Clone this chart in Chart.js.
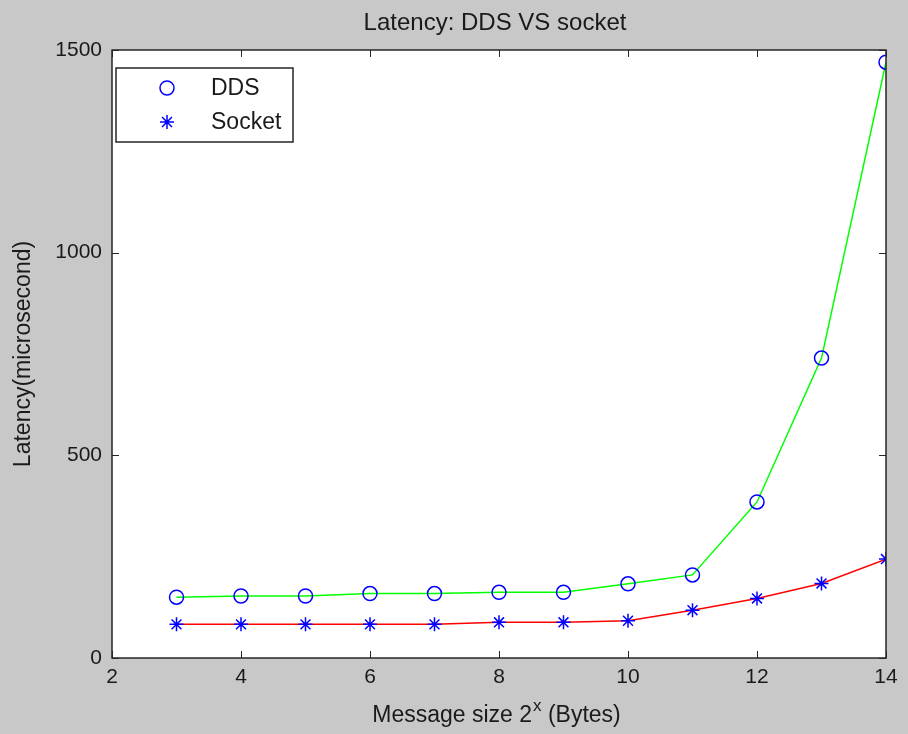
<!DOCTYPE html>
<html>
<head>
<meta charset="utf-8">
<script src="https://cdn.jsdelivr.net/npm/chart.js@4.4.1/dist/chart.umd.min.js"></script>
<style>
    body { margin: 0; background: #c8c8c8; }
    canvas { display: block; }
</style>
</head>
<body>
<canvas id="latencyChart" width="908" height="734"></canvas>
<script>
    // message size exponents (2^x bytes)
    const exponents = [3, 4, 5, 6, 7, 8, 9, 10, 11, 12, 13, 14];
    const ddsLatency = [150, 153, 153, 159, 159, 162, 162, 183, 205, 385, 740, 1470];
    const socketLatency = [83, 83, 83, 83, 83, 88, 88, 92, 118, 147, 184, 244];
    const xTicks = [2, 4, 6, 8, 10, 12, 14];
    const yTicks = [0, 500, 1000, 1500];

    const FONT = '"Liberation Sans", Arial, sans-serif';
    const textColor = '#1a1a1a';
    const tickSize = 21;
    const labelSize = 23;

    // matlab-ish frame: grey figure, white axes box, inward ticks, legend box
    const matlabFrame = {
        id: 'matlabFrame',
        beforeDraw(chart) {
            const ctx = chart.ctx;
            const a = chart.chartArea;
            ctx.save();
            ctx.fillStyle = '#c8c8c8';
            ctx.fillRect(0, 0, chart.width, chart.height);
            ctx.fillStyle = '#ffffff';
            ctx.fillRect(a.left, a.top, a.right - a.left, a.bottom - a.top);
            ctx.restore();
        },
        afterDraw(chart) {
            const ctx = chart.ctx;
            const a = chart.chartArea;
            const xs = chart.scales.x, ys = chart.scales.y;
            ctx.save();
            ctx.strokeStyle = '#262626';
            ctx.lineWidth = 1.5;
            ctx.strokeRect(a.left, a.top, a.right - a.left, a.bottom - a.top);

            // inward tick marks
            ctx.lineWidth = 1;
            ctx.beginPath();
            xTicks.forEach(v => {
                const px = Math.round(xs.getPixelForValue(v)) + 0.5;
                ctx.moveTo(px, a.bottom); ctx.lineTo(px, a.bottom - 7);
                ctx.moveTo(px, a.top); ctx.lineTo(px, a.top + 7);
            });
            yTicks.forEach(v => {
                const py = Math.round(ys.getPixelForValue(v)) + 0.5;
                ctx.moveTo(a.left, py); ctx.lineTo(a.left + 7, py);
                ctx.moveTo(a.right, py); ctx.lineTo(a.right - 7, py);
            });
            ctx.stroke();

            // title
            ctx.fillStyle = textColor;
            ctx.textAlign = 'center';
            ctx.textBaseline = 'middle';
            ctx.font = '24px ' + FONT;
            ctx.fillText('Latency: DDS VS socket', (a.left + a.right) / 2 - 4, 23);

            // x axis title with superscript
            const bigFont = labelSize + 'px ' + FONT, smallFont = '17px ' + FONT;
            ctx.font = bigFont;
            const part1 = 'Message size 2', sup = 'x', part2 = ' (Bytes)';
            const w1 = ctx.measureText(part1).width;
            const w3 = ctx.measureText(part2).width;
            ctx.font = smallFont;
            const w2 = ctx.measureText(sup).width;
            const tx = (a.left + a.right) / 2 - (w1 + w2 + w3) / 2 - 3;
            const ty = 716;
            ctx.textAlign = 'left';
            ctx.font = bigFont;
            ctx.fillText(part1, tx, ty);
            ctx.font = smallFont;
            ctx.fillText(sup, tx + w1 + 1, ty - 10);
            ctx.font = bigFont;
            ctx.fillText(part2, tx + w1 + w2 + 1, ty);

            // y axis title
            ctx.save();
            ctx.translate(24, (a.top + a.bottom) / 2);
            ctx.rotate(-Math.PI / 2);
            ctx.textAlign = 'center';
            ctx.fillText('Latency(microsecond)', 0, 0);
            ctx.restore();

            // legend box
            const lx = 116, ly = 68, lw = 177, lh = 74;
            ctx.fillStyle = '#ffffff';
            ctx.fillRect(lx, ly, lw, lh);
            ctx.strokeStyle = '#262626';
            ctx.lineWidth = 1.5;
            ctx.strokeRect(lx, ly, lw, lh);
            chart.data.datasets.forEach((ds, i) => {
                const cy = ly + 20 + i * 34;
                ctx.strokeStyle = ds.pointBorderColor;
                ctx.lineWidth = ds.pointBorderWidth;
                Chart.helpers.drawPoint(ctx, { pointStyle: ds.pointStyle, radius: ds.pointRadius, borderWidth: ds.pointBorderWidth }, lx + 51, cy);
                ctx.fillStyle = textColor;
                ctx.font = bigFont;
                ctx.textAlign = 'left';
                ctx.fillText(ds.label, lx + 95, cy + 1);
            });
            ctx.restore();
        }
    };

    new Chart(document.getElementById('latencyChart'), {
        type: 'line',
        data: {
            datasets: [{
                label: 'DDS',
                data: exponents.map((x, i) => ({ x: x, y: ddsLatency[i] })),
                borderColor: '#00ff00',
                borderWidth: 1.5,
                pointStyle: 'circle',
                pointRadius: 7,
                pointBorderColor: '#0000ff',
                pointBackgroundColor: 'rgba(0,0,0,0)',
                pointBorderWidth: 1.5,
                tension: 0
            }, {
                label: 'Socket',
                data: exponents.map((x, i) => ({ x: x, y: socketLatency[i] })),
                borderColor: '#ff0000',
                borderWidth: 1.5,
                pointStyle: 'star',
                pointRadius: 7,
                pointBorderColor: '#0000ff',
                pointBackgroundColor: '#0000ff',
                pointBorderWidth: 1.5,
                tension: 0
            }]
        },
        options: {
            responsive: false,
            animation: false,
            layout: { padding: { top: 50, right: 22, left: 0, bottom: 0 } },
            plugins: {
                legend: { display: false },
                tooltip: { enabled: false }
            },
            scales: {
                x: {
                    type: 'linear',
                    min: 2,
                    max: 14,
                    afterFit: s => { s.height = 76; },
                    afterBuildTicks: s => { s.ticks = xTicks.map(v => ({ value: v })); },
                    grid: { display: false, drawTicks: false },
                    border: { display: false },
                    ticks: { color: textColor, font: { family: FONT, size: tickSize }, padding: 7 }
                },
                y: {
                    min: 0,
                    max: 1500,
                    afterFit: s => { s.width = 112; },
                    afterBuildTicks: s => { s.ticks = yTicks.map(v => ({ value: v })); },
                    grid: { display: false, drawTicks: false },
                    border: { display: false },
                    ticks: {
                        color: textColor,
                        font: { family: FONT, size: tickSize },
                        padding: 10,
                        callback: v => String(v)
                    }
                }
            }
        },
        plugins: [matlabFrame]
    });
</script>
</body>
</html>
